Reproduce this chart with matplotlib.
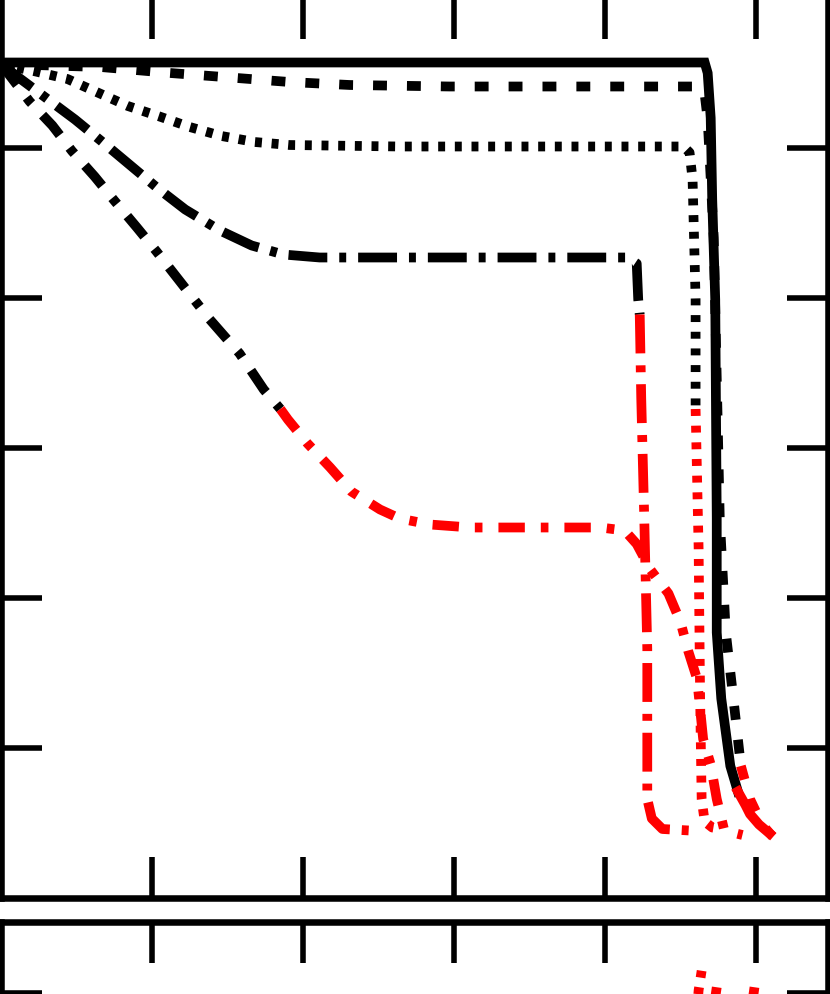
import matplotlib
matplotlib.use("Agg")
import matplotlib.pyplot as plt

plt.rcParams["lines.scale_dashes"] = False

# Curve data (x: displacement units, y: load units), black part then red part
solid_x_k = [0.0, 1.0, 2.0, 3.0, 4.0, 4.66, 4.68, 4.70, 4.71, 4.73, 4.74, 4.74, 4.77, 4.83, 4.88]
solid_y_k = [5.57, 5.57, 5.57, 5.57, 5.57, 5.57, 5.50, 5.20, 4.66, 3.99, 2.53, 1.77, 1.33, 0.88, 0.71]
solid_x_r = [4.88, 4.93, 4.96, 5.02, 5.09]
solid_y_r = [0.71, 0.62, 0.56, 0.49, 0.43]

dash_x_k = [0.0, 0.66, 1.12, 1.52, 1.91, 2.31, 2.97, 4.63, 4.66, 4.68, 4.72, 4.76, 4.80, 4.85, 4.90]
dash_y_k = [5.56, 5.54, 5.50, 5.47, 5.44, 5.42, 5.41, 5.41, 5.36, 5.19, 4.40, 2.53, 1.77, 1.33, 0.88]
dash_x_r = [4.90, 4.96, 5.04, 5.11]
dash_y_r = [0.88, 0.66, 0.49, 0.41]

dot_x_k = [0.0, 0.23, 0.44, 0.64, 0.84, 1.05, 1.25, 1.46, 1.68, 1.91, 2.64, 4.52, 4.56, 4.58, 4.60, 4.60]
dot_y_k = [5.56, 5.51, 5.46, 5.37, 5.28, 5.21, 5.14, 5.08, 5.04, 5.02, 5.01, 5.01, 4.97, 4.79, 3.99, 3.26]
dot_x_r = [4.60, 4.62, 4.63, 4.64, 4.66, 4.71, 4.77]
dot_y_r = [3.26, 2.33, 1.33, 0.66, 0.51, 0.47, 0.46]

dd_x_k = [0.0, 0.13, 0.49, 0.66, 0.85, 1.04, 1.22, 1.45, 1.66, 1.87, 2.11, 4.15, 4.21, 4.22, 4.23]
dd_y_k = [5.56, 5.46, 5.19, 5.05, 4.89, 4.73, 4.59, 4.45, 4.35, 4.29, 4.27, 4.27, 4.23, 3.99, 3.89]
dd_x_r = [4.23, 4.24, 4.26, 4.28, 4.28, 4.31, 4.38, 4.56]
dd_y_r = [3.89, 3.33, 2.53, 1.66, 0.66, 0.53, 0.46, 0.45]

sd_x_k = [0.0, 0.19, 0.34, 0.47, 0.62, 0.75, 0.90, 1.03, 1.17, 1.38, 1.58, 1.74, 1.85]
sd_y_k = [5.56, 5.31, 5.15, 4.98, 4.81, 4.65, 4.47, 4.31, 4.13, 3.86, 3.63, 3.39, 3.26]
sd_x_r = [1.85, 1.90, 2.03, 2.18, 2.32, 2.51, 2.64, 2.84, 3.11, 3.97, 4.13, 4.21, 4.30,
          4.42, 4.50, 4.55, 4.61, 4.65, 4.70, 4.74, 4.79, 4.91]
sd_y_r = [3.26, 3.19, 3.03, 2.87, 2.71, 2.59, 2.53, 2.49, 2.47, 2.47, 2.45, 2.36, 2.19,
          2.03, 1.84, 1.65, 1.46, 1.06, 0.89, 0.66, 0.45, 0.42]

# lower panel (only its top edge is visible)
low_dot_x = [4.64, 4.62, 4.61]
low_dot_y = [1.15, 1.02, 0.90]
low_dd_x = [4.74, 4.73, 4.72]
low_dd_y = [1.04, 0.97, 0.90]
low_dash_x = [4.99, 4.98, 4.97]
low_dash_y = [1.04, 0.97, 0.90]

ticks = [1, 2, 3, 4, 5]

styles = {
    "solid": dict(linestyle="-"),
    "dash": dict(dashes=(10, 14.4)),
    "dot": dict(dashes=(5, 7)),
    "dd": dict(dashes=(28, 8.6, 5, 8.6)),
    "sd": dict(dashes=(19, 11.5, 5.5, 11.5)),
}
LW = 7

fig = plt.figure(figsize=(8.3, 9.95), dpi=100)
W, H = 830.0, 995.0
ax = fig.add_axes([1 / W, (H - 899) / H, 827 / W, 900 / H])
ax2 = fig.add_axes([1 / W, (H - 1222.7) / H, 827 / W, 300 / H])

series = [
    (solid_x_k, solid_y_k, solid_x_r, solid_y_r, "solid"),
    (dash_x_k, dash_y_k, dash_x_r, dash_y_r, "dash"),
    (dot_x_k, dot_y_k, dot_x_r, dot_y_r, "dot"),
    (dd_x_k, dd_y_k, dd_x_r, dd_y_r, "dd"),
    (sd_x_k, sd_y_k, sd_x_r, sd_y_r, "sd"),
]
for xk, yk, xr, yr, st in series:
    ax.plot(xk, yk, color="black", lw=LW, solid_joinstyle="miter", **styles[st])
    ax.plot(xr, yr, color="red", lw=LW, **styles[st])

ax2.plot(low_dot_x, low_dot_y, color="red", lw=LW, **styles["dot"])
ax2.plot(low_dd_x, low_dd_y, color="red", lw=LW, **styles["sd"])
ax2.plot(low_dash_x, low_dash_y, color="red", lw=LW, **styles["dash"])

for a in (ax, ax2):
    a.set_xticks(ticks)
    a.set_yticks(ticks)
    a.tick_params(direction="in", length=29.5, width=4, top=True, right=True,
                  labelbottom=False, labelleft=False)
    for sp in a.spines.values():
        sp.set_linewidth(4.7)

ax.set_xlim(0, 827 / 151)
ax.set_ylim(0, 6.0)
ax2.set_xlim(0, 827 / 151)
ax2.set_ylim(1.477 - 2.0, 1.477)

fig.savefig("out.png", dpi=100)
